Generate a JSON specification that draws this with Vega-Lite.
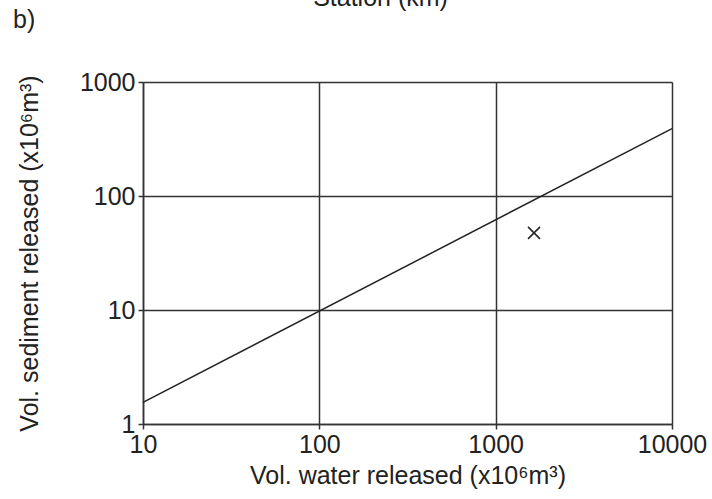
{
  "$schema": "https://vega.github.io/schema/vega-lite/v6.json",
  "width": 529,
  "height": 342,
  "autosize": {"type": "none"},
  "padding": {"left": 143, "top": 82, "right": 40, "bottom": 75},
  "background": "white",
  "title": {"text": "b)", "anchor": "start", "frame": "group", "dx": -130, "dy": 68, "fontSize": 25, "font": "Liberation Sans", "fontWeight": "normal", "color": "#222", "offset": 0, "baseline": "alphabetic"},
  "config": {
    "view": {"stroke": null},
    "axis": {
      "labelFont": "Liberation Sans", "labelFontSize": 25, "labelColor": "#222",
      "titleFont": "Liberation Sans", "titleFontSize": 25, "titleFontWeight": "normal", "titleColor": "#222",
      "domainColor": "#333", "domainWidth": 1.5,
      "tickColor": "#333", "tickWidth": 1.5, "tickSize": 5,
      "gridColor": "#333", "gridWidth": 1.5, "gridOpacity": 1,
      "labelPadding": 3, "labelFlush": false, "labelOverlap": false
    }
  },
  "encoding": {
    "y": {"field": "sediment", "type": "quantitative", "scale": {"type": "log", "domain": [1, 1000]},
      "axis": {"values": [1, 10, 100, 1000], "format": "d", "title": "Vol. sediment released (x10⁶m³)", "grid": true, "titlePadding": 37}}
  },
  "layer": [
    {
      "data": {"values": [{"water": 10, "sediment": 1.55}, {"water": 10000, "sediment": 390}]},
      "mark": {"type": "line", "color": "#222", "strokeWidth": 1.5},
      "encoding": {
        "x": {"field": "water", "type": "quantitative", "scale": {"type": "log", "domain": [10, 10000]},
          "axis": {"values": [10, 100, 1000, 10000], "format": "d", "title": "Vol. water released (x10⁶m³)", "grid": true, "titlePadding": 6}}
      }
    },
    {
      "data": {"values": [{"water": 1650, "sediment": 47.5}]},
      "mark": {"type": "point", "shape": "M-1,-1L1,1M-1,1L1,-1", "filled": false, "size": 144, "color": "#222", "strokeWidth": 1.5, "opacity": 1},
      "encoding": {
        "x": {"field": "water", "type": "quantitative",
          "axis": {"orient": "top", "title": "Station (km)", "labels": false, "ticks": false, "domain": false, "grid": false, "titleX": 237, "titleY": -77, "titleBaseline": "alphabetic", "titleAlign": "center"}}
      }
    }
  ],
  "resolve": {"axis": {"x": "independent"}}
}
